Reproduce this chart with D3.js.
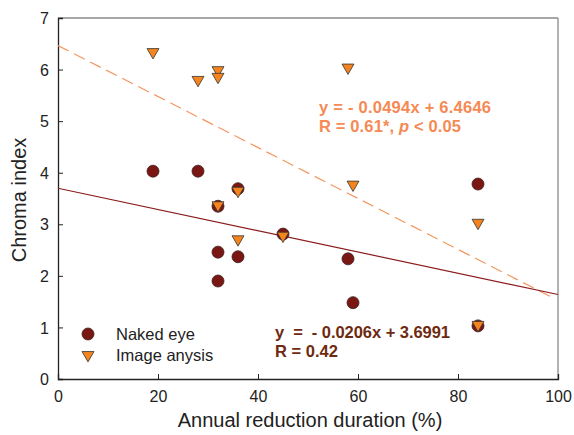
<!DOCTYPE html>
<html>
<head>
<meta charset="utf-8">
<script src="https://cdn.jsdelivr.net/npm/d3@7"></script>
<style>
  body { margin: 0; background: #fff; }
  svg { font-family: "Liberation Sans", Arial, sans-serif; }
</style>
</head>
<body>
<svg id="chart" width="574" height="435"></svg>
<script>
// data
const nakedX = [19, 28, 32, 32, 32, 36, 36, 45, 58, 59, 84, 84];
const nakedY = [4.03, 4.03, 3.35, 2.46, 1.9, 2.37, 3.69, 2.81, 2.33, 1.48, 3.78, 1.03];
const imageX = [19, 28, 32, 32, 32, 36, 36, 45, 58, 59, 84, 84];
const imageY = [6.34, 5.8, 5.99, 5.86, 3.37, 2.71, 3.65, 2.78, 6.04, 3.77, 3.03, 1.05];

// regression line endpoints (from the printed equations)
const fitNaked = [[0, 3.6991], [100, 1.6391]];
const fitImage = [[0, 6.4646], [99, 1.5740]];

const xTicks = [0, 20, 40, 60, 80, 100];
const yTicks = [0, 1, 2, 3, 4, 5, 6, 7];

const svg = d3.select("#chart");

const x = d3.scaleLinear().domain([0, 100]).range([58, 558]);
const y = d3.scaleLinear().domain([0, 7]).range([379, 18]);

// frame: top and right in gray
svg.append("line")
  .attr("x1", x(0)).attr("x2", x(100))
  .attr("y1", y(7)).attr("y2", y(7))
  .attr("stroke", "#8a8a8a").attr("stroke-width", 1.3);
svg.append("line")
  .attr("x1", x(100)).attr("x2", x(100))
  .attr("y1", y(7)).attr("y2", y(0))
  .attr("stroke", "#8a8a8a").attr("stroke-width", 1.3);

// axes with inward ticks
const xAxis = svg.append("g")
  .attr("transform", `translate(0,${y(0)})`)
  .call(d3.axisBottom(x).tickValues(xTicks).tickSize(-5).tickPadding(12).tickFormat(d3.format("d")));
const yAxis = svg.append("g")
  .attr("transform", `translate(${x(0)},0)`)
  .call(d3.axisLeft(y).tickValues(yTicks).tickSize(-5).tickPadding(9).tickFormat(d3.format("d")));

[xAxis, yAxis].forEach((g) => {
  g.select(".domain").attr("stroke", "#222").attr("stroke-width", 1.3);
  g.selectAll(".tick line").attr("stroke", "#222");
  g.selectAll(".tick text")
    .attr("fill", "#222")
    .style("font-size", "16px")
    .style("font-family", "Liberation Sans, Arial, sans-serif");
});
yAxis.selectAll(".tick text").attr("dy", "0.35em");

// axis titles
svg.append("text")
  .attr("x", 310).attr("y", 427)
  .attr("text-anchor", "middle")
  .attr("fill", "#222")
  .style("font-size", "20px")
  .text("Annual reduction duration (%)");
svg.append("text")
  .attr("transform", "translate(26,200) rotate(-90)")
  .attr("text-anchor", "middle")
  .attr("fill", "#222")
  .style("font-size", "20px")
  .text("Chroma index");

// regression lines
const line = d3.line().x((d) => x(d[0])).y((d) => y(d[1]));
svg.append("path")
  .attr("d", line(fitImage))
  .attr("fill", "none")
  .attr("stroke", "#f7955e")
  .attr("stroke-width", 1.2)
  .attr("stroke-dasharray", "12,6");
svg.append("path")
  .attr("d", line(fitNaked))
  .attr("fill", "none")
  .attr("stroke", "#8b1c1c")
  .attr("stroke-width", 1.2);

// markers
const naked = nakedX.map((d, i) => ({ x: d, y: nakedY[i] }));
const image = imageX.map((d, i) => ({ x: d, y: imageY[i] }));

svg.append("g")
  .selectAll("circle")
  .data(naked)
  .join("circle")
  .attr("cx", (d) => x(d.x))
  .attr("cy", (d) => y(d.y))
  .attr("r", 6)
  .attr("fill", "#7a1712")
  .attr("stroke", "#3a2020")
  .attr("stroke-width", 0.8);

const tri = d3.symbol().type(d3.symbolTriangle).size(62);
svg.append("g")
  .selectAll("path")
  .data(image)
  .join("path")
  .attr("d", tri)
  .attr("transform", (d) => `translate(${x(d.x)},${y(d.y)}) rotate(180)`)
  .attr("fill", "#f5841f")
  .attr("stroke", "#333")
  .attr("stroke-width", 0.8);

// legend
svg.append("circle")
  .attr("cx", 88).attr("cy", 334).attr("r", 6)
  .attr("fill", "#7a1712").attr("stroke", "#3a2020").attr("stroke-width", 0.8);
svg.append("path")
  .attr("d", tri)
  .attr("transform", "translate(88,355) rotate(180)")
  .attr("fill", "#f5841f").attr("stroke", "#333").attr("stroke-width", 0.8);
svg.append("text")
  .attr("x", 116).attr("y", 339.5)
  .attr("fill", "#222").style("font-size", "16.5px")
  .text("Naked eye");
svg.append("text")
  .attr("x", 116).attr("y", 361)
  .attr("fill", "#222").style("font-size", "16.5px")
  .text("Image anysis");

// equation annotations
const orangeText = svg.append("g")
  .attr("fill", "#f58a55")
  .style("font-size", "16.5px")
  .style("font-weight", "bold");
orangeText.append("text").attr("x", 319).attr("y", 113)
  .attr("textLength", 172).attr("lengthAdjust", "spacing")
  .text("y = - 0.0494x + 6.4646");
const r1 = orangeText.append("text").attr("x", 319).attr("y", 131.5)
  .attr("textLength", 142).attr("lengthAdjust", "spacing");
r1.append("tspan").text("R = 0.61*, ");
r1.append("tspan").style("font-style", "italic").text("p");
r1.append("tspan").text(" < 0.05");

const brownText = svg.append("g")
  .attr("fill", "#6e2a10")
  .style("font-size", "16.5px")
  .style("font-weight", "bold")
  .style("white-space", "pre");
brownText.append("text").attr("x", 275).attr("y", 338)
  .attr("xml:space", "preserve")
  .attr("textLength", 175).attr("lengthAdjust", "spacing")
  .text("y  =  - 0.0206x + 3.6991");
brownText.append("text").attr("x", 275).attr("y", 357)
  .attr("textLength", 63).attr("lengthAdjust", "spacing")
  .text("R = 0.42");
</script>
</body>
</html>
